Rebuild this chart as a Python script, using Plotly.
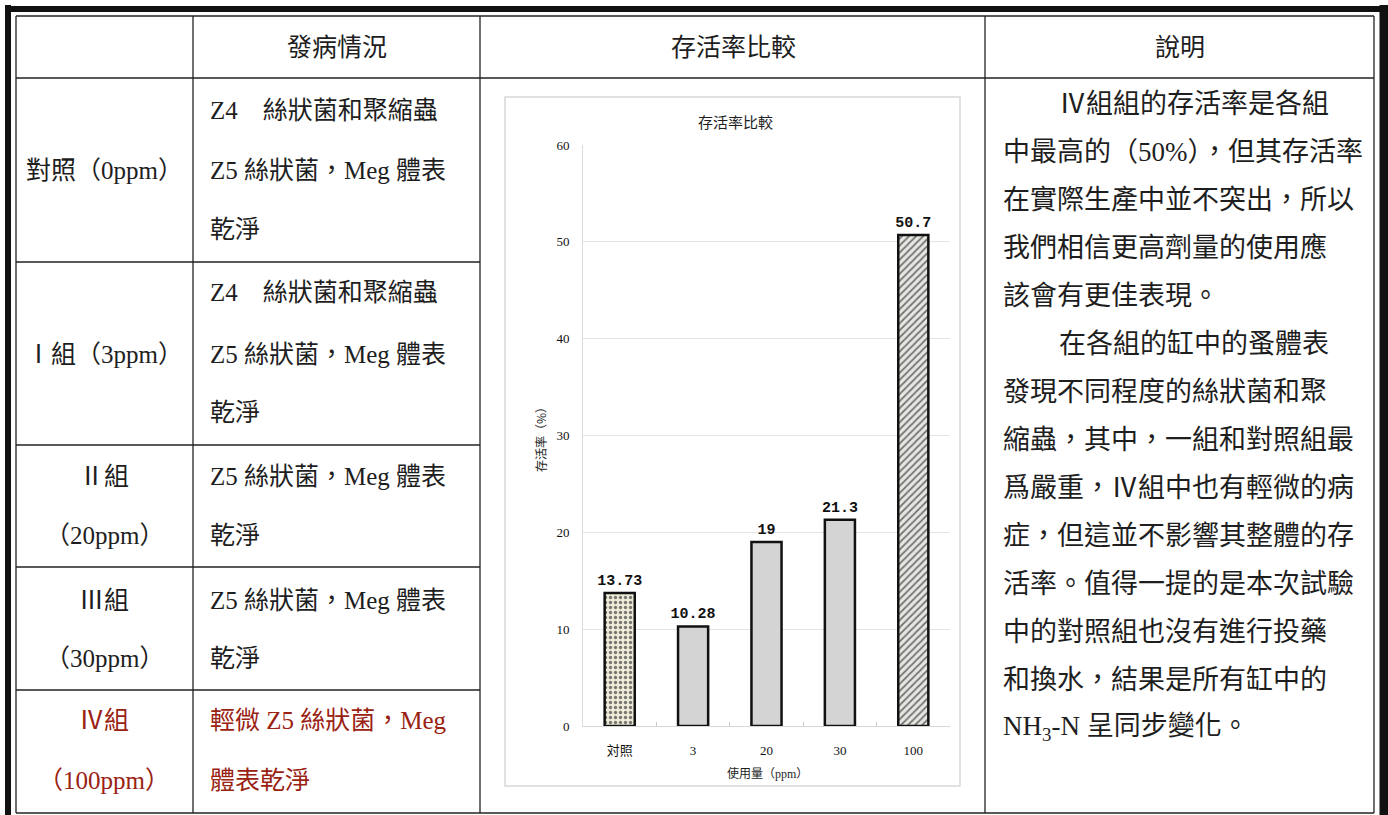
import plotly.graph_objects as go

W, H = 1388, 815

# ---- chart data ----
categories = ["対照", "3", "20", "30", "100"]
survival = [13.73, 10.28, 19, 21.3, 50.7]
bar_colors = ["#eeecd8", "#d4d4d4", "#d4d4d4", "#d4d4d4", "#e6e6e2"]
pattern_shapes = [".", "", "", "", "/"]
pattern_fg = ["#44442e", "#d4d4d4", "#d4d4d4", "#d4d4d4", "#8a8a8a"]
y_ticks = [0, 10, 20, 30, 40, 50, 60]

# ---- table text ----
headers = ["發病情況", "存活率比較", "說明"]
group_lines = [["對照（0ppm）"], ["Ⅰ組（3ppm）"], ["Ⅱ組", "（20ppm）"],
               ["Ⅲ組", "（30ppm）"], ["Ⅳ組", "（100ppm）"]]
disease_lines = [["Z4　絲狀菌和聚縮蟲", "Z5 絲狀菌，Meg 體表", "乾淨"],
                 ["Z4　絲狀菌和聚縮蟲", "Z5 絲狀菌，Meg 體表", "乾淨"],
                 ["Z5 絲狀菌，Meg 體表", "乾淨"],
                 ["Z5 絲狀菌，Meg 體表", "乾淨"],
                 ["輕微 Z5 絲狀菌，Meg", "體表乾淨"]]
note_lines = ["Ⅳ組組的存活率是各組", "中最高的（50%），但其存活率", "在實際生產中並不突出，所以",
              "我們相信更高劑量的使用應", "該會有更佳表現。", "在各組的缸中的蚤體表",
              "發現不同程度的絲狀菌和聚", "縮蟲，其中，一組和對照組最", "爲嚴重，Ⅳ組中也有輕微的病",
              "症，但這並不影響其整體的存", "活率。值得一提的是本次試驗", "中的對照組也沒有進行投藥",
              "和換水，結果是所有缸中的", "NH<sub>3</sub>-N 呈同步變化。"]
note_indent = [True, False, False, False, False, True, False, False, False, False, False, False, False, False]


def X(px):
    return px / W


def Y(py):
    return 1 - py / H


SERIF = "Liberation Serif, Noto Sans CJK TC, serif"
INK = "#1e1e1e"
RED = "#9a2212"

fig = go.Figure()
fig.add_trace(go.Bar(
    x=categories, y=survival,
    width=0.41,
    marker=dict(color=bar_colors, line=dict(color="#111111", width=2.5),
                pattern=dict(shape=pattern_shapes, fgcolor=pattern_fg,
                             fgopacity=0.7, fillmode="overlay", size=5, solidity=0.35)),
    text=[f"{v:g}" for v in survival], textposition="outside", constraintext="none",
    textfont=dict(family="Liberation Mono, monospace", size=15, color="#111111", weight="bold"),
    cliponaxis=False,
    showlegend=False,
    hoverinfo="skip",
))

fig.update_layout(
    template="none",
    width=W, height=H,
    margin=dict(l=0, r=0, t=0, b=0),
    paper_bgcolor="white", plot_bgcolor="white",
    font=dict(color=INK),
    xaxis=dict(type="category", domain=[X(583), X(950)], showgrid=False, showline=True, linecolor="#d6d6d6",
               ticks="inside", tickson="boundaries", ticklen=4, tickcolor="#c8c8c8",
               ticklabelstandoff=12,
               tickfont=dict(family="Liberation Serif, Noto Sans CJK SC, serif", size=13, color="#111111")),
    yaxis=dict(domain=[Y(726), Y(145)], range=[0, 60], tickvals=y_ticks,
               showgrid=True, gridcolor="#e4e4e4", zeroline=False,
               showline=True, linecolor="#dcdcdc", ticks="", ticklabelstandoff=10,
               tickfont=dict(family="Liberation Serif, serif", size=13, color="#111111")),
)

shapes = []


def line(x0, y0, x1, y1, w=1.3, c="#222222"):
    shapes.append(dict(type="line", xref="paper", yref="paper", x0=X(x0), y0=Y(y0), x1=X(x1), y1=Y(y1),
                       line=dict(color=c, width=w)))


# thick outer frame
line(8, 5, 8, 815, w=6, c="#111111")
line(5, 9, 1388, 9, w=6, c="#111111")
line(1384, 5, 1384, 815, w=9, c="#111111")
# inner table lines
line(16, 16, 1374, 16)
line(16, 16, 16, 813)
line(1374, 16, 1374, 813)
line(16, 813, 1374, 813)
for cx in [193, 480, 985]:
    line(cx, 16, cx, 813)
line(16, 78, 1374, 78)
for ry in [262, 445, 567, 690]:
    line(16, ry, 480, ry)
# chart frame
shapes.append(dict(type="rect", xref="paper", yref="paper", x0=X(505), y0=Y(786), x1=X(960), y1=Y(97),
                   line=dict(color="#d8d8d8", width=1.5)))

fig.update_layout(shapes=shapes)

ann = []


def text(s, x, y, size=26, color=INK, xanchor="center", family=SERIF, angle=0):
    ann.append(dict(text=s, x=X(x), y=Y(y), xref="paper", yref="paper", showarrow=False,
                    xanchor=xanchor, yanchor="middle", textangle=angle,
                    font=dict(family=family, size=size, color=color)))


# headers
text(headers[0], 337, 47, size=25)
text(headers[1], 733, 47, size=25)
text(headers[2], 1180, 47, size=25)

# group column
group_y = [[170], [355], [477, 535], [600, 658], [720, 780]]
disease_y = [[110, 170, 230], [293, 355, 413], [477, 535], [600, 658], [720, 780]]
for i in range(5):
    col = RED if i == 4 else INK
    for s, yy in zip(group_lines[i], group_y[i]):
        text(s, 104, yy, size=25, color=col)
    for s, yy in zip(disease_lines[i], disease_y[i]):
        text(s, 208, yy, size=25, color=col, xanchor="left")

# notes column
for k, s in enumerate(note_lines):
    yy = 104 + 48 * k
    x0 = 1057 if note_indent[k] else 1001
    text(s, x0, yy, size=27, xanchor="left")

# chart texts
text("存活率比較", 735, 121, size=15, family="Noto Sans CJK SC, serif")
text("存活率（%）", 540, 437, size=12, family="Noto Sans CJK SC, serif", angle=-90)
text("使用量（ppm）", 767, 773, size=12, family="Liberation Serif, Noto Sans CJK SC, serif")

fig.update_layout(annotations=ann)
fig.write_html("out.html", config={"displayModeBar": False},
               post_script="document.body.style.margin='0';document.body.style.overflow='hidden';")
